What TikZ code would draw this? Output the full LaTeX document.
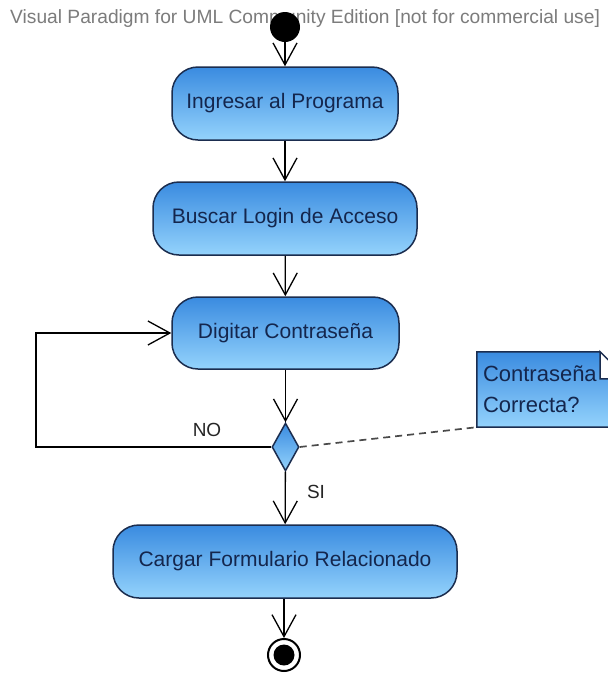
\documentclass[tikz,border=0pt]{standalone}
\usepackage{fontspec}
\setmainfont{Liberation Sans}
\usetikzlibrary{arrows.meta,shapes.geometric}

\definecolor{edge}{HTML}{1B2D4F}
\definecolor{actTop}{HTML}{3A8BE0}
\definecolor{actBot}{HTML}{94D3FC}
\definecolor{ink}{HTML}{14264D}
\definecolor{wmark}{HTML}{7C7C7C}
\definecolor{anchorline}{HTML}{4A4A4A}

\begin{document}
\begin{tikzpicture}[x=1pt,y=-1pt,
  flow/.style={draw=black, line width=1.3pt,
    -{Straight Barb[length=22pt,width=24pt]}},
  action/.style={rectangle, rounded corners=26pt, draw=edge, line width=1.5pt,
    top color=actTop, bottom color=actBot, text=ink,
    font=\fontsize{21}{25}\selectfont, inner sep=0pt, minimum height=73pt},
  decision/.style={diamond, draw=edge, line width=1.5pt, inner sep=0pt,
    minimum width=27pt, minimum height=48pt,
    top color=actTop, bottom color=actBot},
  guard/.style={font=\fontsize{19}{22}\selectfont, text=black!85, inner sep=0pt},
  comment/.style={rectangle, top color=actTop, bottom color=actBot, text=ink,
    minimum width=150pt, minimum height=75pt, inner sep=6pt,
    text width=138pt, align=left,
    font=\fontsize{22}{31}\selectfont}
]
\useasboundingbox (0,0) rectangle (608,673);
\fill[white] (0,0) rectangle (608,673);
\clip (0,0) rectangle (608,673);

% edition banner
\node[anchor=base west, inner sep=0pt, text=wmark,
      font=\fontsize{19.2}{22}\selectfont] (banner) at (10,23)
  {Visual Paradigm for UML Community Edition [not for commercial use]};

% initial and final nodes
\node[circle, fill=black, minimum size=30pt, inner sep=0pt] (start) at (285,27) {};
\node[circle, draw=black, line width=2pt, fill=white, minimum size=32pt, inner sep=0pt] (stop) at (284,655) {};
\node[circle, fill=black, minimum size=21pt, inner sep=0pt] (stopcore) at (stop.center) {};

% actions
\node[action, minimum width=226pt] (b1) at (285,103.5) {Ingresar al Programa};
\node[action, minimum width=264pt] (b2) at (285,218.5) {Buscar Login de Acceso};
\node[action, minimum width=227pt, minimum height=72pt] (b3) at (285.5,333) {Digitar Contraseña};
\node[action, minimum width=344pt] (b4) at (285,561.5) {Cargar Formulario Relacionado};

% decision
\node[decision] (dec) at (285.5,447) {};

% comment note with folded corner
\node[comment] (note) at (552,389.5) {Contraseña\\Correcta?};
\fill[white] ([xshift=-27pt]note.north east) rectangle ([yshift=-27pt]note.north east);
\draw[edge, line width=1.5pt, line join=miter]
  ([xshift=-27pt]note.north east) -- (note.north west) -- (note.south west)
  -- (note.south east) -- ([yshift=-27pt]note.north east)
  -- ([xshift=-27pt]note.north east)
  -- ([xshift=-27pt,yshift=-27pt]note.north east) -- ([yshift=-27pt]note.north east);

% control flows
\draw[flow] (start) -- (b1);
\draw[flow] (b1) -- (b2);
\draw[flow] (b2) -- (b3);
\draw[flow] (b3) -- (dec);
\coordinate (bend) at (36,447);
\draw[flow] (dec.west) -- (bend) |- (b3.west);
\draw[flow] (dec) -- (b4);
\draw[flow] (b4.south -| stop) -- (stop);

% guards
\node[guard] (no) at (207,430) {NO};
\node[guard] (si) at (316,492) {SI};

% note anchor
\draw[anchorline, line width=1.7pt, dash pattern=on 7pt off 5pt] (dec.east) -- (note.south west);
\end{tikzpicture}
\end{document}
